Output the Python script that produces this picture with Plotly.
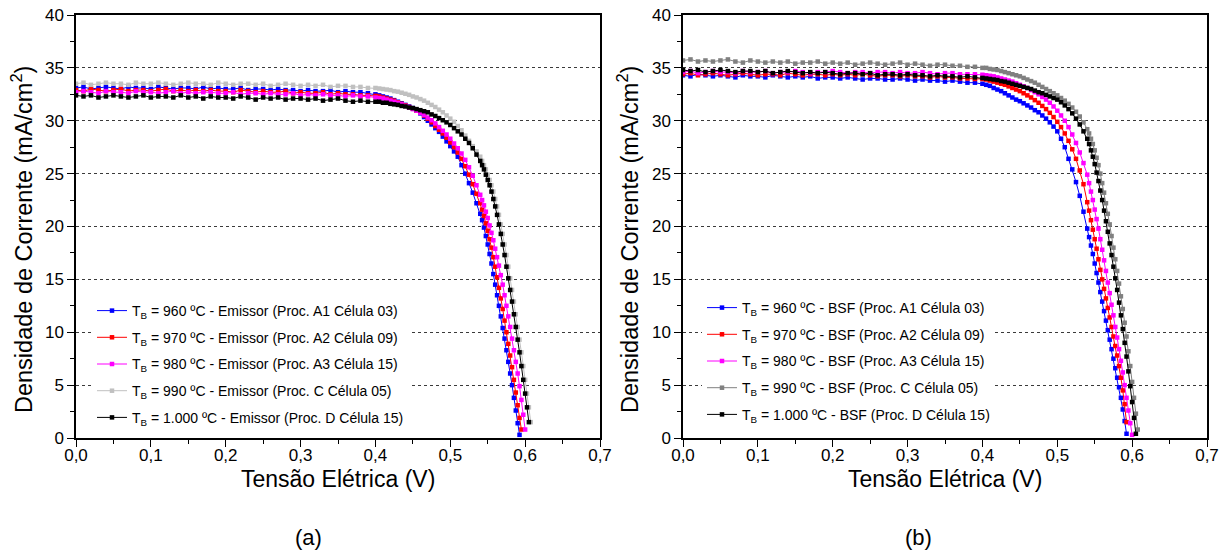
import plotly.graph_objects as go

# Voltage sampling points (V): coarse on the plateau, finer through the knee and the tail
VOLT_PLATEAU = [0.00, 0.01, 0.02, 0.03, 0.04, 0.05, 0.06, 0.07, 0.08, 0.09,
                0.10, 0.11, 0.12, 0.13, 0.14, 0.15, 0.16, 0.17, 0.18, 0.19,
                0.20, 0.21, 0.22, 0.23, 0.24, 0.25, 0.26, 0.27, 0.28, 0.29,
                0.30, 0.31, 0.32, 0.33, 0.34, 0.35, 0.36, 0.37, 0.38, 0.39]
VOLT_KNEE = [0.400, 0.405, 0.410, 0.415, 0.420, 0.425, 0.430, 0.435, 0.440, 0.445,
             0.450, 0.455, 0.460, 0.465, 0.470, 0.475, 0.480, 0.485, 0.490, 0.495,
             0.500, 0.505, 0.510, 0.515, 0.520, 0.525, 0.530, 0.535]
VOLT_TAIL = [0.5400, 0.5425, 0.5450, 0.5475, 0.5500, 0.5525, 0.5550, 0.5575,
             0.5600, 0.5625, 0.5650, 0.5675, 0.5700, 0.5725, 0.5750, 0.5775,
             0.5800, 0.5825, 0.5850, 0.5875, 0.5900, 0.5925, 0.5950, 0.5975,
             0.6000, 0.6025, 0.6050, 0.6075]
VOLTAGE = VOLT_PLATEAU + VOLT_KNEE + VOLT_TAIL

# ---- (a) Emissor: current density J (mA/cm2) ----
J_EMISSOR_960 = [
    33.1, 33.2, 33.0, 33.1, 33.2, 33.1, 33.0, 33.2, 33.1, 33.1,
    33.0, 33.2, 33.1, 33.0, 33.1, 33.1, 33.0, 33.2, 33.0, 33.1,
    33.0, 33.0, 33.1, 32.9, 33.0, 33.0, 32.9, 33.0, 32.9, 32.9,
    32.8, 32.9, 32.8, 32.8, 32.9, 32.7, 32.8, 32.7, 32.7, 32.6,
    32.5, 32.4, 32.3, 32.2, 32.1, 31.95, 31.8, 31.65, 31.5, 31.35,
    31.2, 30.95, 30.7, 30.35, 30.0, 29.65, 29.3, 28.95, 28.5, 28.05,
    27.6, 27.1, 26.6, 25.8, 25.0, 24.1, 23.2, 22.2,
    21.2, 20.6, 19.9, 19.1, 18.3, 17.4, 16.5, 15.5, 14.5, 13.5,
    12.5, 11.5, 10.4, 9.4, 8.3, 7.2, 6.1, 5.0, 3.8, 2.6, 1.4, 0.3]
J_EMISSOR_970 = [
    32.9, 32.8, 33.0, 32.9, 32.8, 32.9, 33.0, 32.8, 32.9, 32.9,
    32.8, 32.9, 33.0, 32.8, 32.9, 32.8, 32.9, 32.8, 32.9, 32.8,
    32.8, 32.7, 32.9, 32.8, 32.7, 32.8, 32.7, 32.7, 32.8, 32.6,
    32.7, 32.6, 32.6, 32.7, 32.5, 32.6, 32.5, 32.5, 32.4, 32.4,
    32.35, 32.3, 32.2, 32.1, 32.0, 31.9, 31.75, 31.6, 31.45, 31.3,
    31.15, 30.95, 30.75, 30.5, 30.2, 29.85, 29.5, 29.15, 28.8, 28.4,
    27.95, 27.5, 27.0, 26.4, 25.7, 24.9, 24.0, 23.1,
    22.2, 21.6, 21.0, 20.3, 19.6, 18.8, 18.0, 17.1, 16.2, 15.2,
    14.2, 13.2, 12.2, 11.1, 10.0, 8.9, 7.8, 6.7, 5.5, 4.3, 3.1, 1.9, 0.8]
J_EMISSOR_980 = [
    32.7, 32.8, 32.7, 32.6, 32.8, 32.7, 32.7, 32.6, 32.8, 32.7,
    32.7, 32.6, 32.7, 32.8, 32.6, 32.7, 32.6, 32.7, 32.7, 32.6,
    32.6, 32.7, 32.5, 32.6, 32.6, 32.5, 32.6, 32.5, 32.5, 32.6,
    32.4, 32.5, 32.4, 32.5, 32.4, 32.4, 32.3, 32.4, 32.3, 32.3,
    32.2, 32.15, 32.1, 32.0, 31.9, 31.8, 31.7, 31.55, 31.4, 31.25,
    31.1, 30.95, 30.75, 30.55, 30.3, 30.05, 29.75, 29.4, 29.05, 28.7,
    28.3, 27.85, 27.4, 26.9, 26.3, 25.6, 24.8, 23.9,
    23.0, 22.5, 22.0, 21.4, 20.8, 20.1, 19.4, 18.7, 17.9, 17.1,
    16.3, 15.4, 14.5, 13.5, 12.5, 11.5, 10.5, 9.4, 8.3, 7.2,
    6.1, 4.9, 3.6, 2.2, 0.8]
J_EMISSOR_990 = [
    33.5, 33.6, 33.4, 33.5, 33.6, 33.5, 33.5, 33.4, 33.6, 33.5,
    33.5, 33.6, 33.5, 33.4, 33.5, 33.6, 33.5, 33.5, 33.4, 33.6,
    33.5, 33.4, 33.5, 33.5, 33.4, 33.5, 33.3, 33.4, 33.5, 33.4,
    33.3, 33.4, 33.3, 33.4, 33.2, 33.3, 33.3, 33.2, 33.2, 33.1,
    33.1, 33.05, 33.0, 32.95, 32.9, 32.8, 32.75, 32.65, 32.55, 32.45,
    32.3, 32.2, 32.05, 31.9, 31.7, 31.5, 31.3, 31.05, 30.8, 30.5,
    30.2, 29.9, 29.5, 29.1, 28.6, 28.1, 27.6, 27.1,
    26.6, 26.2, 25.8, 25.4, 24.9, 24.4, 23.9, 23.3, 22.6, 21.9,
    21.1, 20.2, 19.3, 18.3, 17.3, 16.2, 15.1, 14.0, 12.9, 11.7,
    10.5, 9.3, 8.1, 6.8, 5.5, 4.2, 2.9, 1.5]
J_EMISSOR_1000 = [
    32.4, 32.3, 32.4, 32.2, 32.3, 32.4, 32.3, 32.2, 32.3, 32.4,
    32.2, 32.3, 32.3, 32.2, 32.4, 32.2, 32.3, 32.1, 32.3, 32.2,
    32.2, 32.1, 32.3, 32.2, 32.0, 32.2, 32.1, 32.2, 32.0, 32.1,
    32.1, 32.0, 32.1, 31.9, 32.0, 32.1, 31.9, 31.8, 31.9, 31.8,
    31.8, 31.8, 31.7, 31.7, 31.6, 31.55, 31.5, 31.4, 31.35, 31.25,
    31.2, 31.1, 31.0, 30.9, 30.8, 30.6, 30.45, 30.25, 30.05, 29.85,
    29.6, 29.3, 29.0, 28.7, 28.3, 27.9, 27.4, 26.8,
    26.2, 25.8, 25.4, 24.9, 24.4, 23.9, 23.3, 22.6, 21.9, 21.1,
    20.2, 19.3, 18.3, 17.3, 16.2, 15.1, 14.0, 12.9, 11.7, 10.5,
    9.3, 8.1, 6.8, 5.5, 4.2, 2.9, 1.5]

# ---- (b) BSF: current density J (mA/cm2) ----
J_BSF_960 = [
    34.3, 34.2, 34.4, 34.3, 34.2, 34.3, 34.2, 34.1, 34.3, 34.2,
    34.2, 34.1, 34.3, 34.2, 34.1, 34.2, 34.1, 34.2, 34.0, 34.1,
    34.1, 34.0, 34.1, 34.0, 33.9, 34.0, 34.0, 33.9, 33.9, 34.0,
    33.9, 33.8, 33.9, 33.8, 33.8, 33.7, 33.8, 33.7, 33.6, 33.6,
    33.5, 33.4, 33.3, 33.1, 32.95, 32.8, 32.6, 32.4, 32.2, 32.0,
    31.85, 31.65, 31.45, 31.25, 31.0, 30.8, 30.5, 30.2, 29.85, 29.45,
    29.0, 28.3, 27.5, 26.4, 25.4, 24.2, 22.9, 21.4,
    19.8, 19.0, 18.2, 17.4, 16.5, 15.6, 14.7, 13.8, 12.9, 12.0,
    11.1, 10.2, 9.3, 8.4, 7.5, 6.6, 5.7, 4.8, 3.8, 2.7, 1.6, 0.4]
J_BSF_970 = [
    34.4, 34.5, 34.3, 34.4, 34.5, 34.4, 34.3, 34.4, 34.5, 34.4,
    34.3, 34.4, 34.4, 34.3, 34.5, 34.4, 34.3, 34.4, 34.4, 34.3,
    34.4, 34.3, 34.4, 34.3, 34.4, 34.3, 34.2, 34.3, 34.3, 34.2,
    34.3, 34.2, 34.2, 34.1, 34.2, 34.1, 34.1, 34.0, 34.0, 33.95,
    33.95, 33.9, 33.8, 33.7, 33.6, 33.5, 33.4, 33.25, 33.1, 32.95,
    32.8, 32.6, 32.4, 32.2, 31.95, 31.7, 31.4, 31.1, 30.75, 30.35,
    29.9, 29.4, 28.8, 28.1, 27.3, 26.4, 25.3, 24.0,
    22.3, 21.5, 20.6, 19.7, 18.8, 17.9, 16.9, 15.9, 15.0, 14.1,
    13.2, 12.3, 11.4, 10.5, 9.6, 8.7, 7.8, 6.8, 5.7, 4.5, 3.2, 1.5]
J_BSF_980 = [
    34.6, 34.7, 34.5, 34.6, 34.7, 34.6, 34.6, 34.5, 34.7, 34.6,
    34.6, 34.7, 34.5, 34.6, 34.6, 34.7, 34.6, 34.5, 34.6, 34.6,
    34.7, 34.6, 34.5, 34.6, 34.6, 34.5, 34.6, 34.6, 34.5, 34.6,
    34.5, 34.5, 34.6, 34.5, 34.4, 34.5, 34.5, 34.4, 34.4, 34.4,
    34.35, 34.3, 34.25, 34.2, 34.1, 34.0, 33.9, 33.8, 33.7, 33.55,
    33.4, 33.25, 33.1, 32.9, 32.7, 32.5, 32.25, 32.0, 31.7, 31.35,
    30.95, 30.5, 30.0, 29.4, 28.7, 27.9, 27.0, 26.0,
    24.9, 24.1, 23.3, 22.5, 21.6, 20.7, 19.8, 18.8, 17.8, 16.8,
    15.8, 14.7, 13.7, 12.6, 11.6, 10.5, 9.5, 8.4, 7.3, 6.2,
    5.0, 3.8, 2.6, 1.4, 0.3]
J_BSF_990 = [
    35.7, 35.8, 35.6, 35.7, 35.6, 35.7, 35.8, 35.6, 35.5, 35.7,
    35.6, 35.5, 35.6, 35.5, 35.6, 35.4, 35.5, 35.5, 35.6, 35.4,
    35.5, 35.4, 35.5, 35.3, 35.4, 35.5, 35.4, 35.3, 35.4, 35.5,
    35.3, 35.4, 35.3, 35.2, 35.3, 35.3, 35.2, 35.2, 35.1, 35.1,
    35.0, 35.0, 34.9, 34.85, 34.8, 34.7, 34.6, 34.5, 34.4, 34.3,
    34.2, 34.05, 33.9, 33.75, 33.6, 33.4, 33.2, 33.0, 32.8, 32.6,
    32.4, 32.15, 31.9, 31.6, 31.25, 30.85, 30.4, 29.85,
    29.2, 28.8, 28.3, 27.8, 27.2, 26.5, 25.8, 25.0, 24.1, 23.2,
    22.2, 21.2, 20.2, 19.1, 18.0, 16.9, 15.8, 14.6, 13.4, 12.2,
    10.9, 9.6, 8.2, 6.8, 5.3, 3.8, 2.3, 0.8]
J_BSF_1000 = [
    34.8, 34.7, 34.8, 34.6, 34.7, 34.8, 34.7, 34.6, 34.7, 34.7,
    34.6, 34.7, 34.5, 34.6, 34.7, 34.6, 34.5, 34.6, 34.5, 34.6,
    34.5, 34.4, 34.5, 34.5, 34.4, 34.5, 34.3, 34.4, 34.4, 34.3,
    34.4, 34.3, 34.3, 34.2, 34.3, 34.2, 34.2, 34.1, 34.2, 34.1,
    34.05, 34.0, 33.95, 33.9, 33.85, 33.75, 33.7, 33.6, 33.5, 33.4,
    33.3, 33.2, 33.1, 33.0, 32.85, 32.7, 32.6, 32.45, 32.3, 32.15,
    32.0, 31.75, 31.45, 31.1, 30.7, 30.2, 29.65, 29.0,
    28.3, 27.8, 27.2, 26.6, 25.9, 25.1, 24.3, 23.4, 22.5, 21.5,
    20.5, 19.5, 18.4, 17.3, 16.2, 15.1, 14.0, 12.8, 11.6, 10.3,
    9.0, 7.7, 6.3, 4.9, 3.4, 1.9, 0.4]

SERIES_A = [J_EMISSOR_960, J_EMISSOR_970, J_EMISSOR_980, J_EMISSOR_990, J_EMISSOR_1000]
SERIES_B = [J_BSF_960, J_BSF_970, J_BSF_980, J_BSF_990, J_BSF_1000]

LABELS_A = [
    "T<sub>B</sub> = 960 ºC - Emissor (Proc. A1 Célula 03)",
    "T<sub>B</sub> = 970 ºC - Emissor (Proc. A2 Célula 09)",
    "T<sub>B</sub> = 980 ºC - Emissor (Proc. A3 Célula 15)",
    "T<sub>B</sub> = 990 ºC - Emissor (Proc. C Célula 05)",
    "T<sub>B</sub> = 1.000 ºC - Emissor (Proc. D Célula 15)",
]
LABELS_B = [
    "T<sub>B</sub> = 960 ºC - BSF (Proc. A1 Célula 03)",
    "T<sub>B</sub> = 970 ºC - BSF (Proc. A2 Célula 09)",
    "T<sub>B</sub> = 980 ºC - BSF (Proc. A3 Célula 15)",
    "T<sub>B</sub> = 990 ºC - BSF (Proc. C Célula 05)",
    "T<sub>B</sub> = 1.000 ºC - BSF (Proc. D Célula 15)",
]
COLORS_A = ["#0000ff", "#ff0000", "#ff00ff", "#c0c0c0", "#000000"]
COLORS_B = ["#0000ff", "#ff0000", "#ff00ff", "#808080", "#000000"]

X_TITLE = "Tensão Elétrica (V)"
Y_TITLE = "Densidade de Corrente (mA/cm<sup>2</sup>)"

W, H = 1227, 554
FONT = "Liberation Sans, Arial, sans-serif"


def px_x(p):
    return p / W


def px_y(p):
    return 1 - p / H


fig = go.Figure()

for panel, (series, labels, colors) in enumerate(
        [(SERIES_A, LABELS_A, COLORS_A), (SERIES_B, LABELS_B, COLORS_B)]):
    suffix = "" if panel == 0 else "2"
    for k, (j, name, col) in enumerate(zip(series, labels, colors)):
        fig.add_trace(go.Scatter(
            x=VOLTAGE[:len(j)], y=j, name=name,
            mode="lines+markers",
            line=dict(color=col, width=1),
            marker=dict(symbol="square", size=4.5, color=col, line=dict(width=0)),
            xaxis="x" + suffix, yaxis="y" + suffix,
            legend="legend" + suffix,
            legendgroup=f"p{panel}s{k}",
        ))

axis_common = dict(
    showline=True, linecolor="black", linewidth=1.5, mirror=True,
    ticks="outside", ticklen=7, tickwidth=1.3, tickcolor="black",
    tickfont=dict(family=FONT, size=17, color="black"),
    zeroline=False, automargin=False,
)

x_common = dict(axis_common, range=[0, 0.7], dtick=0.1, tick0=0, tickformat=".1f",
                showgrid=False, ticklabelstandoff=-6,
                minor=dict(ticks="outside", ticklen=4, tickwidth=1.2, tickcolor="black",
                           dtick=0.05, showgrid=False))
y_common = dict(axis_common, range=[0, 40], dtick=5, tick0=0,
                showgrid=True, gridcolor="#3a3a3a", gridwidth=1, griddash="3px,3px",
                minor=dict(ticks="outside", ticklen=4, tickwidth=1.2, tickcolor="black",
                           dtick=2.5, showgrid=False))

y_dom = [px_y(438), px_y(15)]

legend_common = dict(
    bgcolor="white", borderwidth=0,
    font=dict(family=FONT, size=14, color="black"),
    xanchor="left", yanchor="top", tracegroupgap=5.5,
    itemclick=False, itemdoubleclick=False,
)

annotations = []
text_items = [
    (338, 479, X_TITLE, 0, 23),
    (945, 479, X_TITLE, 0, 23),
    (308, 537, "(a)", 0, 22),
    (918, 537, "(b)", 0, 22),
    (22, 240, Y_TITLE, -90, 23.5),
    (628, 240, Y_TITLE, -90, 23.5),
]
for x, y, txt, ang, size in text_items:
    annotations.append(dict(
        x=px_x(x), y=px_y(y), xref="paper", yref="paper", text=txt,
        showarrow=False, textangle=ang, xanchor="center", yanchor="middle",
        font=dict(family=FONT, size=size, color="black"),
    ))

fig.update_layout(
    template="none",
    width=W, height=H, autosize=False,
    margin=dict(l=0, r=0, t=0, b=0, pad=0, autoexpand=False),
    paper_bgcolor="white", plot_bgcolor="white",
    separators=",.",
    showlegend=True,
    xaxis=dict(x_common, domain=[px_x(76), px_x(600)], anchor="y"),
    yaxis=dict(y_common, domain=y_dom, anchor="x"),
    xaxis2=dict(x_common, domain=[px_x(683), px_x(1207)], anchor="y2"),
    yaxis2=dict(y_common, domain=y_dom, anchor="x2"),
    legend=dict(legend_common, x=px_x(92), y=px_y(295)),
    legend2=dict(legend_common, x=px_x(702), y=px_y(292)),
    annotations=annotations,
    font=dict(family=FONT, color="black"),
)

fig.write_html("out.html")
